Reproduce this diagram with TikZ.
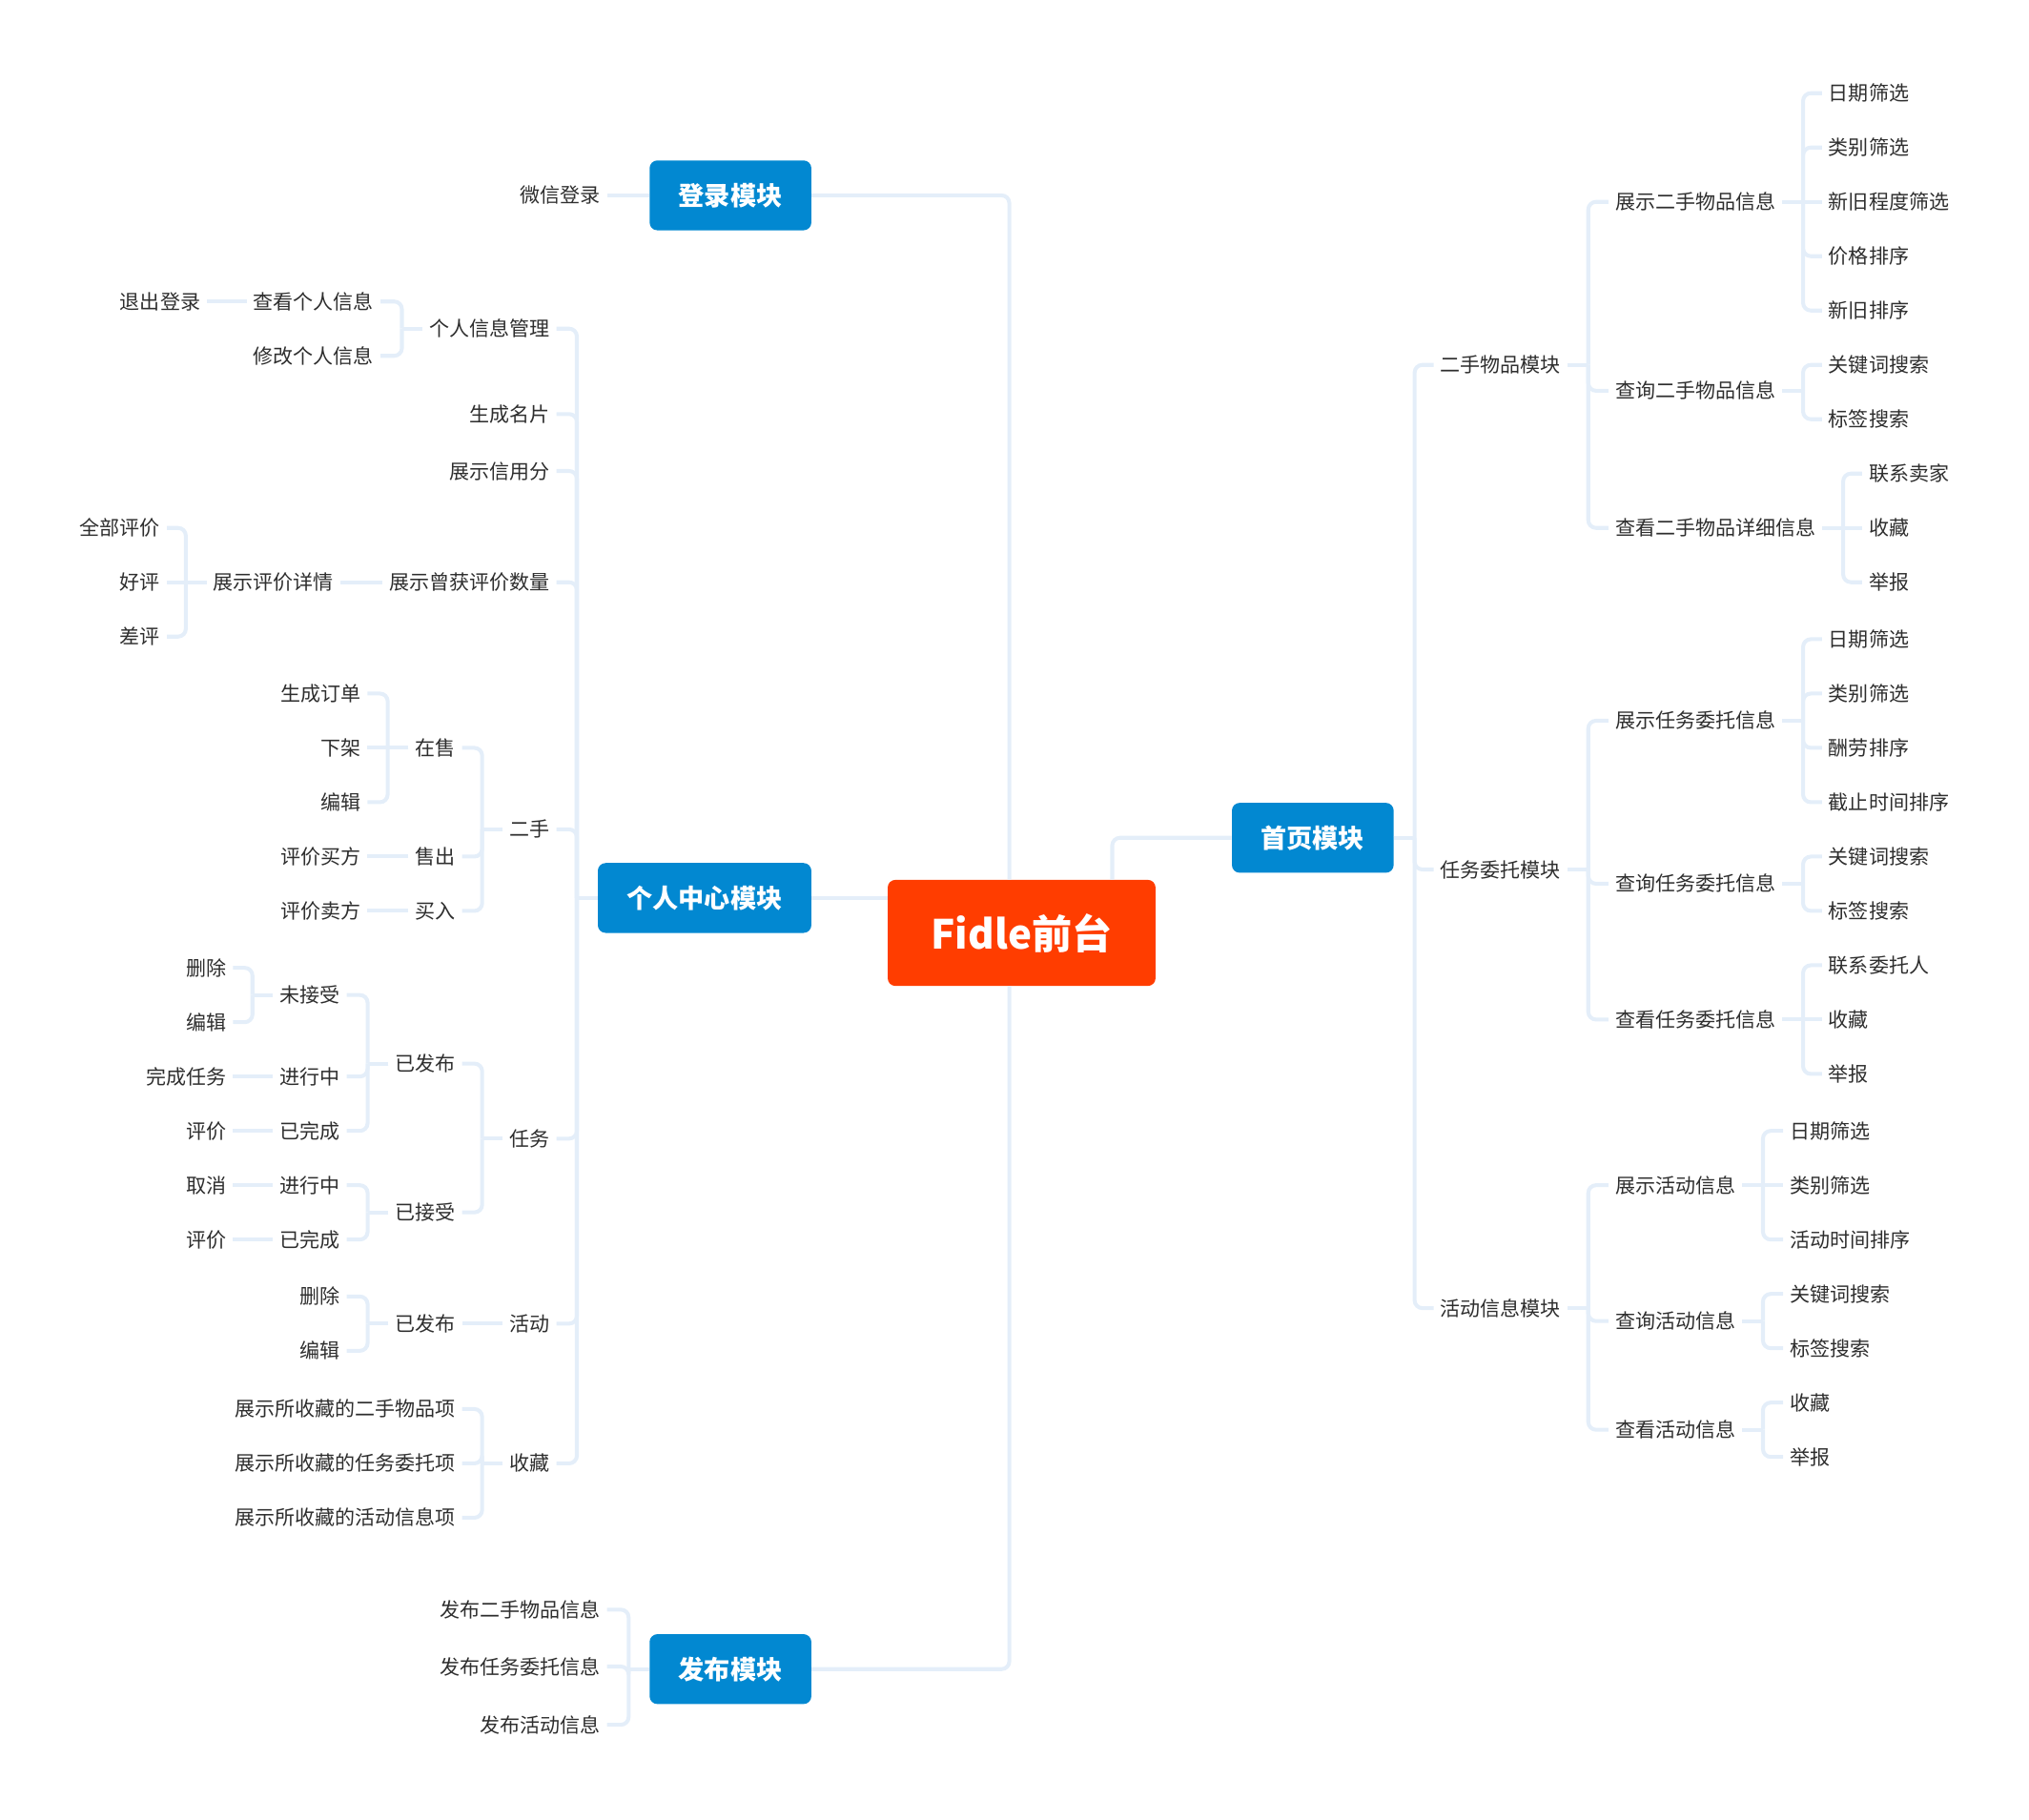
\documentclass[tikz,border=0pt]{standalone}
\usepackage{fontspec}
\setmainfont{Noto Sans CJK SC}
\usepackage{xcolor}
\usepackage{tikz}

\definecolor{linkblue}{HTML}{E4EEF9}
\definecolor{modblue}{HTML}{0288D1}
\definecolor{rootred}{HTML}{FF3D00}
\definecolor{leafgray}{HTML}{2E2E2E}

\begin{document}
\begin{tikzpicture}[
  x=1pt, y=-1pt,
  leaf/.style={font=\fontsize{15.5pt}{18pt}\selectfont, text=leafgray, inner xsep=5pt, inner ysep=2pt, text height=13pt, text depth=1.2pt},
  lleaf/.style={leaf, anchor=east},
  rleaf/.style={leaf, anchor=west},
  module/.style={fill=modblue, text=white, rounded corners=6pt, minimum height=54pt, inner xsep=22.5pt, text height=17pt, text depth=1.5pt, font=\fontsize{20pt}{24pt}\selectfont\bfseries},
  root/.style={fill=rootred, text=white, rounded corners=6pt, minimum height=82pt, minimum width=207pt, font=\fontsize{31pt}{36pt}\selectfont\bfseries},
  link/.style={draw=linkblue, line width=3pt, rounded corners=6pt}
]
  \useasboundingbox (0,0) rectangle (1568,1406);

  % centre and modules
  \node[root] (root) at (789.5,721) {Fidle前台};
  \node[module] (denglu) at (564.5,151) {登录模块};
  \node[module] (geren) at (544.5,694) {个人中心模块};
  \node[module] (fabu) at (564.5,1290) {发布模块};
  \node[module] (shouye) at (1014.5,647.5) {首页模块};

  \draw[link] (geren.east) -- (geren.east -| root.west);
  \draw[link] ([xshift=-9.5pt]root.north) |- (denglu.east);
  \draw[link] ([xshift=-9.5pt]root.south) |- (fabu.east);
  \draw[link] ([xshift=70pt]root.north) |- (shouye.west);

  % left side
  \node[lleaf] (wxdl) at (469,151) {微信登录};

  \node[lleaf] (grxx) at (430,254) {个人信息管理};
  \node[lleaf] (scmp) at (430,320) {生成名片};
  \node[lleaf] (xyf) at (430,364) {展示信用分};
  \node[lleaf] (pjsl) at (430,450) {展示曾获评价数量};
  \node[lleaf] (es) at (430,641) {二手};
  \node[lleaf] (rw) at (430,880) {任务};
  \node[lleaf] (hd) at (430,1023) {活动};
  \node[lleaf] (sc) at (430,1131) {收藏};

  \node[lleaf] (ckgr) at (294,233) {查看个人信息};
  \node[lleaf] (xggr) at (294,275) {修改个人信息};
  \node[lleaf] (tcdl) at (160,233) {退出登录};
  \node[lleaf] (pjxq) at (263,450) {展示评价详情};
  \node[lleaf] (qbpj) at (129,408) {全部评价};
  \node[lleaf] (hp) at (129,450) {好评};
  \node[lleaf] (cp) at (129,492) {差评};

  \node[lleaf] (zs) at (357,578) {在售};
  \node[lleaf] (sch) at (357,662) {售出};
  \node[lleaf] (mr) at (357,704) {买入};
  \node[lleaf] (scdd) at (284,536) {生成订单};
  \node[lleaf] (xj) at (284,578) {下架};
  \node[lleaf] (zsbj) at (284,620) {编辑};
  \node[lleaf] (pjmf) at (284,662) {评价买方};
  \node[lleaf] (pjmaif) at (284,704) {评价卖方};

  \node[lleaf] (rwfb) at (357,822) {已发布};
  \node[lleaf] (rwjs) at (357,937) {已接受};
  \node[lleaf] (wjs) at (268,769) {未接受};
  \node[lleaf] (fbjx) at (268,832) {进行中};
  \node[lleaf] (fbwc) at (268,874) {已完成};
  \node[lleaf] (wjsc) at (180,748) {删除};
  \node[lleaf] (wjbj) at (180,790) {编辑};
  \node[lleaf] (wcrw) at (180,832) {完成任务};
  \node[lleaf] (fbpj) at (180,874) {评价};
  \node[lleaf] (jsjx) at (268,916) {进行中};
  \node[lleaf] (jswc) at (268,958) {已完成};
  \node[lleaf] (qx) at (180,916) {取消};
  \node[lleaf] (jspj) at (180,958) {评价};

  \node[lleaf] (hdfb) at (357,1023) {已发布};
  \node[lleaf] (hdsc) at (268,1002) {删除};
  \node[lleaf] (hdbj) at (268,1044) {编辑};

  \node[lleaf] (sces) at (357,1089) {展示所收藏的二手物品项};
  \node[lleaf] (scrw) at (357,1131) {展示所收藏的任务委托项};
  \node[lleaf] (schd) at (357,1173) {展示所收藏的活动信息项};

  \node[lleaf] (fbes) at (469,1244) {发布二手物品信息};
  \node[lleaf] (fbrw) at (469,1288) {发布任务委托信息};
  \node[lleaf] (fbhd) at (469,1333) {发布活动信息};

  % forks
  \foreach \p/\c in {geren/grxx, geren/scmp, geren/xyf, geren/pjsl, geren/es, geren/rw, geren/hd, geren/sc,
      grxx/ckgr, grxx/xggr, pjxq/qbpj, pjxq/cp,
      es/zs, es/sch, es/mr, zs/scdd, zs/zsbj,
      rw/rwfb, rw/rwjs, rwfb/wjs, rwfb/fbjx, rwfb/fbwc, wjs/wjsc, wjs/wjbj,
      rwjs/jsjx, rwjs/jswc, hdfb/hdsc, hdfb/hdbj, sc/sces, sc/scrw, sc/schd,
      fabu/fbes, fabu/fbrw, fabu/fbhd} {
    \draw[link] (\p.west) -- ++(-16,0) coordinate (j);
    \draw[link] (j) |- (\c.east);
  }
  % straight links
  \foreach \p/\c in {denglu/wxdl, ckgr/tcdl, pjsl/pjxq, pjxq/hp, zs/xj, sch/pjmf, mr/pjmaif,
      fbjx/wcrw, fbwc/fbpj, jsjx/qx, jswc/jspj, hd/hdfb}
    \draw[link] (\p.west) -- (\c.east);

  % right side
  \node[rleaf] (esmk) at (1108,282) {二手物品模块};
  \node[rleaf] (rwmk) at (1108,672) {任务委托模块};
  \node[rleaf] (hdmk) at (1108,1011) {活动信息模块};

  \node[rleaf] (zses) at (1243,156) {展示二手物品信息};
  \node[rleaf] (cxes) at (1243,302) {查询二手物品信息};
  \node[rleaf] (ckes) at (1243,408) {查看二手物品详细信息};
  \node[rleaf] (es1) at (1408,72) {日期筛选};
  \node[rleaf] (es2) at (1408,114) {类别筛选};
  \node[rleaf] (es3) at (1408,156) {新旧程度筛选};
  \node[rleaf] (es4) at (1408,198) {价格排序};
  \node[rleaf] (es5) at (1408,240) {新旧排序};
  \node[rleaf] (es6) at (1408,282) {关键词搜索};
  \node[rleaf] (es7) at (1408,324) {标签搜索};
  \node[rleaf] (es8) at (1439,366) {联系卖家};
  \node[rleaf] (es9) at (1439,408) {收藏};
  \node[rleaf] (es10) at (1439,450) {举报};

  \node[rleaf] (zsrw) at (1243,557) {展示任务委托信息};
  \node[rleaf] (cxrw) at (1243,683) {查询任务委托信息};
  \node[rleaf] (ckrw) at (1243,788) {查看任务委托信息};
  \node[rleaf] (rw1) at (1408,494) {日期筛选};
  \node[rleaf] (rw2) at (1408,536) {类别筛选};
  \node[rleaf] (rw3) at (1408,578) {酬劳排序};
  \node[rleaf] (rw4) at (1408,620) {截止时间排序};
  \node[rleaf] (rw5) at (1408,662) {关键词搜索};
  \node[rleaf] (rw6) at (1408,704) {标签搜索};
  \node[rleaf] (rw7) at (1408,746) {联系委托人};
  \node[rleaf] (rw8) at (1408,788) {收藏};
  \node[rleaf] (rw9) at (1408,830) {举报};

  \node[rleaf] (zshd) at (1243,916) {展示活动信息};
  \node[rleaf] (cxhd) at (1243,1021) {查询活动信息};
  \node[rleaf] (ckhd) at (1243,1105) {查看活动信息};
  \node[rleaf] (hd1) at (1378,874) {日期筛选};
  \node[rleaf] (hd2) at (1378,916) {类别筛选};
  \node[rleaf] (hd3) at (1378,958) {活动时间排序};
  \node[rleaf] (hd4) at (1378,1000) {关键词搜索};
  \node[rleaf] (hd5) at (1378,1042) {标签搜索};
  \node[rleaf] (hd6) at (1378,1084) {收藏};
  \node[rleaf] (hd7) at (1378,1126) {举报};

  % forks
  \foreach \p/\c in {shouye/esmk, shouye/rwmk, shouye/hdmk,
      esmk/zses, esmk/cxes, esmk/ckes,
      zses/es1, zses/es2, zses/es4, zses/es5, cxes/es6, cxes/es7,
      ckes/es8, ckes/es10,
      rwmk/zsrw, rwmk/cxrw, rwmk/ckrw,
      zsrw/rw1, zsrw/rw2, zsrw/rw3, zsrw/rw4, cxrw/rw5, cxrw/rw6,
      ckrw/rw7, ckrw/rw9,
      hdmk/zshd, hdmk/cxhd, hdmk/ckhd,
      zshd/hd1, zshd/hd3, cxhd/hd4, cxhd/hd5, ckhd/hd6, ckhd/hd7} {
    \draw[link] (\p.east) -- ++(16,0) coordinate (j);
    \draw[link] (j) |- (\c.west);
  }
  % straight links
  \foreach \p/\c in {zses/es3, ckes/es9, ckrw/rw8, zshd/hd2}
    \draw[link] (\p.east) -- (\c.west);
\end{tikzpicture}
\end{document}
